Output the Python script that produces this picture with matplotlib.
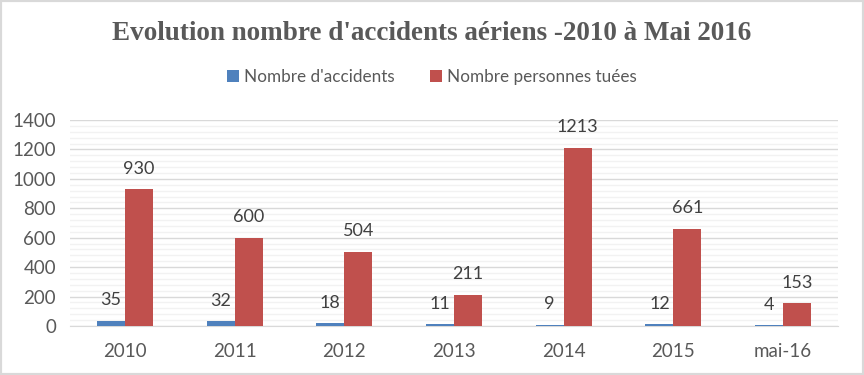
import numpy as np
import matplotlib as mpl
from matplotlib import pyplot as plt
from matplotlib.patches import Rectangle
from matplotlib.ticker import MultipleLocator

mpl.rcParams['font.family'] = ['Lato', 'DejaVu Sans']

years = ['2010', '2011', '2012', '2013', '2014', '2015', 'mai-16']
accidents = [35, 32, 18, 11, 9, 12, 4]
tues = [930, 600, 504, 211, 1213, 661, 153]

blue = '#4F81BD'
red = '#C0504D'
txt = '#595959'

fig = plt.figure(figsize=(8.64, 3.75), dpi=100)
ax = fig.add_axes([70/864, 1 - 326/375, 768/864, 206/375])

x = np.arange(len(years))
w = 0.255
b1 = ax.bar(x - w/2, accidents, w, color=blue, label="Nombre d'accidents", zorder=3)
b2 = ax.bar(x + w/2, tues, w, color=red, label='Nombre personnes tuées', zorder=3)

for bars, vals in [(b1, accidents), (b2, tues)]:
    for b, v in zip(bars, vals):
        ax.annotate(str(v), (b.get_x() + b.get_width()/2, v), xytext=(0, 9),
                    textcoords='offset points', ha='center', va='bottom',
                    fontsize=13, color='#404040')

ax.set_xlim(-0.5, len(years) - 0.5)
ax.set_ylim(0, 1400)
ax.yaxis.set_major_locator(MultipleLocator(200))
ax.yaxis.set_minor_locator(MultipleLocator(40))
ax.grid(axis='y', which='major', color='#D9D9D9', lw=1, zorder=0)
ax.grid(axis='y', which='minor', color='#F2F2F2', lw=1, zorder=0)
ax.set_xticks(x)
ax.set_xticklabels(years)
ax.tick_params(axis='both', which='both', length=0, labelsize=13.5, colors=txt)
ax.tick_params(axis='x', pad=12)
ax.tick_params(axis='y', pad=10)
for s in ['top', 'right', 'left']:
    ax.spines[s].set_visible(False)
ax.spines['bottom'].set_color('#D9D9D9')

fig.text(0.5, 1 - 33/375, "Evolution nombre d'accidents aériens -2010 à Mai 2016",
         ha='center', va='center', fontsize=19.5, fontweight='bold',
         family='Liberation Serif', color=txt)

fig.legend(handles=[b1, b2], loc='center', bbox_to_anchor=(0.5, 1 - 77/375),
           ncol=2, frameon=False, fontsize=12.3, handlelength=0.7, handleheight=0.7,
           columnspacing=2.1, handletextpad=0.3, labelcolor=txt)

fig.patches.append(Rectangle((0, 0), 1, 1, transform=fig.transFigure, fill=False,
                             edgecolor='#D9D9D9', lw=3))

plt.savefig('out.png', dpi=100)
